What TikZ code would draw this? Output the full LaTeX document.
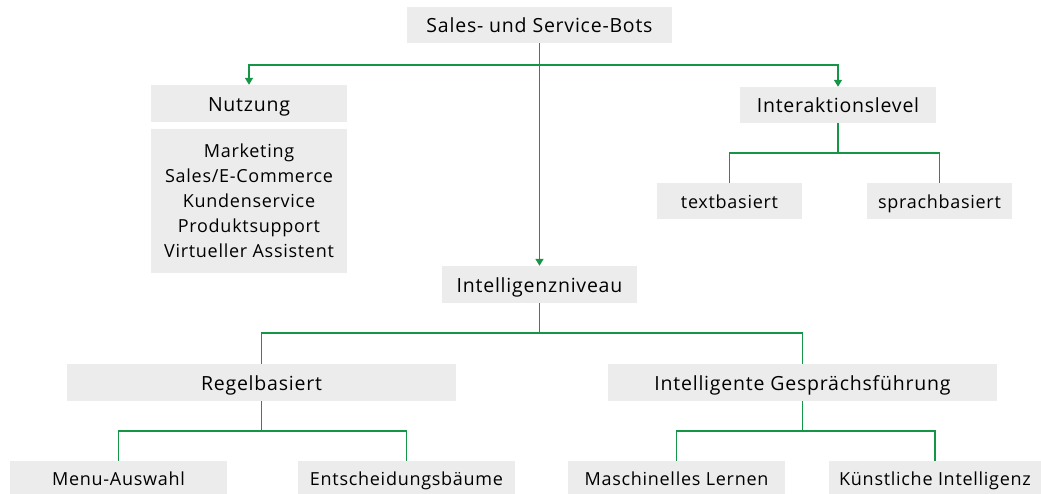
\documentclass[tikz,border=0pt]{standalone}
\usepackage{fontspec}
\setmainfont{Open Sans}[LetterSpace=4]
\usetikzlibrary{arrows.meta}
\definecolor{lnk}{RGB}{20,150,70}
\definecolor{boxgray}{RGB}{236,236,236}
\tikzset{
  box/.style={fill=boxgray, draw=none, inner sep=0pt, align=center,
    font=\fontsize{19.5}{25}\selectfont, text=black},
  small/.style={font=\fontsize{18}{25}\selectfont},
  lbox/.style={box, text height=18pt, text depth=2.1pt},
  conn/.style={draw=lnk, line width=1.4pt},
  thin conn/.style={draw=lnk, line width=1.1pt},
  arr/.style={-{Triangle[length=7pt,width=8pt]}}
}
\begin{document}
\begin{tikzpicture}[x=1pt,y=-1pt]
\useasboundingbox (0,0) rectangle (1041,494);
\node[lbox, minimum width=265pt, minimum height=36pt] (top) at (539.5,25) {Sales- und Service-Bots};
\node[lbox, minimum width=196pt, minimum height=37pt] (nutz) at (249,103.5) {Nutzung};
\node[box, small, minimum width=196pt, minimum height=144pt] (items) at (249,201) {Marketing\\Sales/E-Commerce\\Kundenservice\\Produktsupport\\Virtueller Assistent};
\node[lbox, minimum width=196pt, minimum height=36pt] (inter) at (838,105) {Interaktionslevel};
\node[lbox, small, minimum width=145pt, minimum height=36pt] (textb) at (729.5,201) {textbasiert};
\node[lbox, small, minimum width=145pt, minimum height=36pt] (sprach) at (939.5,201) {sprachbasiert};
\node[lbox, minimum width=195pt, minimum height=37pt] (intel) at (539.5,284.5) {Intelligenzniveau};
\node[lbox, minimum width=389pt, minimum height=37pt] (regel) at (261.5,382.5) {Regelbasiert};
\node[lbox, minimum width=389pt, minimum height=37pt] (igf) at (802.5,382.5) {Intelligente Gesprächsführung};
\node[lbox, small, minimum width=217pt, minimum height=33pt] (menu) at (118.5,477.5) {Menu-Auswahl};
\node[lbox, small, minimum width=217pt, minimum height=33pt] (entsch) at (406.5,477.5) {Entscheidungsbäume};
\node[lbox, small, minimum width=217pt, minimum height=33pt] (masch) at (676.5,477.5) {Maschinelles Lernen};
\node[lbox, small, minimum width=212pt, minimum height=33pt] (kuenst) at (935,477.5) {Künstliche Intelligenz};

\coordinate (j0) at (539.5,65);
\coordinate (j1) at (838,153);
\coordinate (j2) at (539.5,333);
\coordinate (j3) at (261.5,431);
\coordinate (j4) at (802.5,431);

\draw[conn, arr] (top.south) -- (intel.north);
\draw[conn, arr] (j0) -| (nutz.north);
\draw[conn, arr] (j0) -| (inter.north);

\draw[thin conn] (inter.south) -- (j1);
\draw[thin conn] (j1) -| (textb.north);
\draw[thin conn] (j1) -| (sprach.north);

\draw[thin conn] (intel.south) -- (j2);
\draw[thin conn] (j2) -| (regel.north);
\draw[thin conn] (j2) -| (igf.north);

\draw[thin conn] (regel.south) -- (j3);
\draw[thin conn] (j3) -| (menu.north);
\draw[thin conn] (j3) -| (entsch.north);

\draw[thin conn] (igf.south) -- (j4);
\draw[thin conn] (j4) -| (masch.north);
\draw[thin conn] (j4) -| (kuenst.north);
\end{tikzpicture}
\end{document}
